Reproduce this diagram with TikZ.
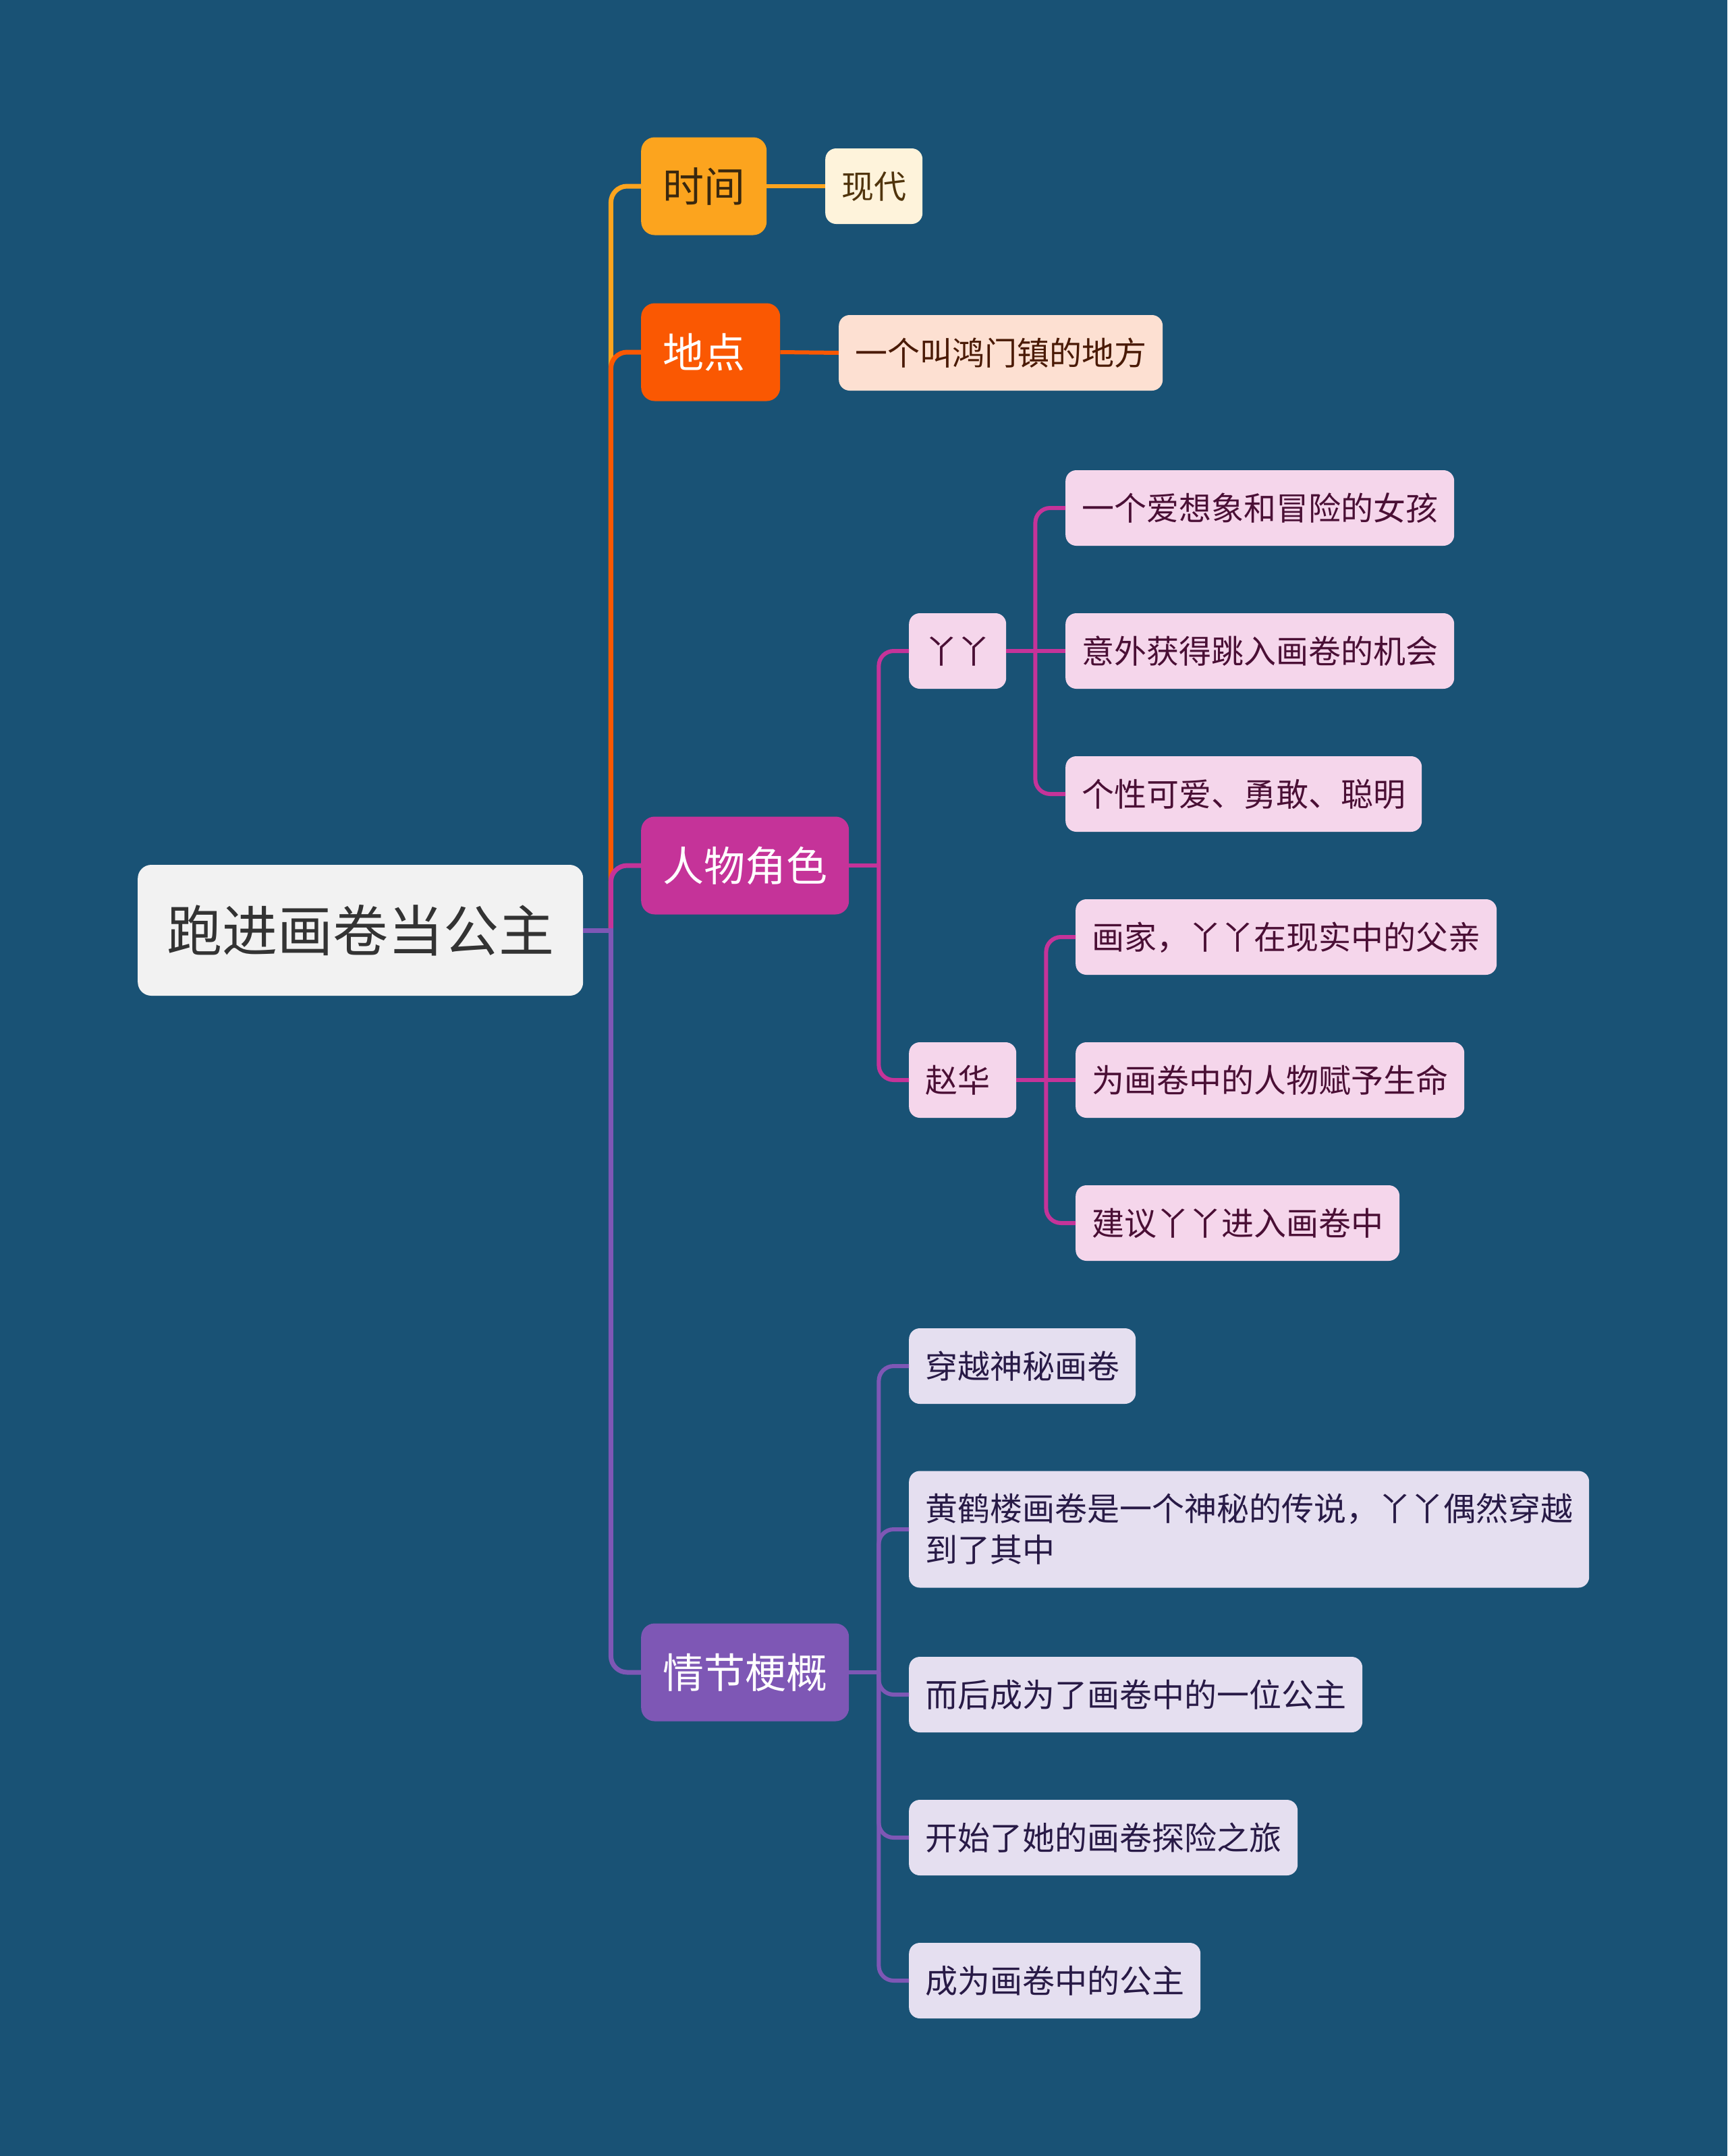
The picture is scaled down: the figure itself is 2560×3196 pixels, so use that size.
\documentclass[tikz,border=0pt]{standalone}
\usepackage{fontspec}
\setmainfont{Noto Sans CJK SC}
\definecolor{bgc}{RGB}{25,82,117}
\definecolor{rootc}{RGB}{242,242,242}
\definecolor{roottx}{RGB}{51,51,51}
\definecolor{ca}{RGB}{252,164,30}
\definecolor{cb}{RGB}{250,88,2}
\definecolor{cc}{RGB}{197,51,153}
\definecolor{cd}{RGB}{126,87,181}
\definecolor{la}{RGB}{254,243,219}
\definecolor{lb}{RGB}{253,224,210}
\definecolor{lc}{RGB}{245,214,235}
\definecolor{ld}{RGB}{229,223,240}
\definecolor{ta}{RGB}{80,52,12}
\definecolor{tb}{RGB}{74,26,5}
\definecolor{tc}{RGB}{74,15,53}
\definecolor{td}{RGB}{40,26,70}
\definecolor{tone}{RGB}{58,40,14}
\begin{document}
\begin{tikzpicture}[x=1pt,y=-1pt,
 base/.style={rounded corners=16pt, anchor=west, inner ysep=0pt},
 rootbox/.style={base, fill=rootc, text=roottx, font=\fontsize{82}{98}\selectfont, text height=66pt, text depth=4pt, minimum height=194pt, inner xsep=43pt, rounded corners=20pt},
 lvone/.style={base, font=\fontsize{61}{73}\selectfont, text height=49pt, text depth=3pt, minimum height=145pt, inner xsep=32pt, rounded corners=20pt},
 leaf/.style={base, font=\fontsize{48}{61}\selectfont, text height=38pt, text depth=2pt, minimum height=112pt, inner xsep=24pt},
 leafa/.style={leaf, fill=la, text=ta},
 leafb/.style={leaf, fill=lb, text=tb},
 leafc/.style={leaf, fill=lc, text=tc},
 leafd/.style={leaf, fill=ld, text=td},
 link/.style={line width=7pt, rounded corners=24pt},
 sublink/.style={line width=6pt, rounded corners=22pt},
]
\useasboundingbox (0,0) rectangle (2560,3196);
\fill[bgc] (0,0) rectangle (2560,3196);

% root and main branches
\node[rootbox] (root) at (204,1379) {跑进画卷当公主};
\node[lvone, fill=ca, text=tone] (t1) at (950,276) {时间};
\node[lvone, fill=cb, text=white, minimum width=206pt] (t2) at (950,522) {\hspace*{-19pt}地点};
\node[lvone, fill=cc, text=white] (t3) at (950,1283) {人物角色};
\node[lvone, fill=cd, text=white] (t4) at (950,2479) {情节梗概};

% leaves
\node[leafa] (x1) at (1223,276) {现代};
\node[leafb] (y1) at (1243,523) {一个叫鸿门镇的地方};

\node[leafc] (p1) at (1347,965) {丫丫};
\node[leafc, minimum width=159pt] (p2) at (1347,1601) {\hspace*{-14pt}赵华};
\node[leafc] (p1a) at (1579,753) {一个爱想象和冒险的女孩};
\node[leafc] (p1b) at (1579,965) {意外获得跳入画卷的机会};
\node[leafc] (p1c) at (1579,1177) {个性可爱、勇敢、聪明};
\node[leafc] (p2a) at (1594,1389) {画家，丫丫在现实中的父亲};
\node[leafc] (p2b) at (1594,1601) {为画卷中的人物赋予生命};
\node[leafc] (p2c) at (1594,1813) {建议丫丫进入画卷中};

\node[leafd] (q1) at (1347,2025) {穿越神秘画卷};
\node[leafd, align=left, text height=, text depth=, inner ysep=22pt, minimum height=173pt, minimum width=1007pt] (q2) at (1347,2267) {黄鹤楼画卷是一个神秘的传说，丫丫偶然穿越\\到了其中};
\node[leafd] (q3) at (1347,2512) {而后成为了画卷中的一位公主};
\node[leafd] (q4) at (1347,2724) {开始了她的画卷探险之旅};
\node[leafd] (q5) at (1347,2936) {成为画卷中的公主};

% main connectors
\draw[link, ca] (root.east) ++(41,0) |- (t1.west);
\draw[link, cb] (root.east) ++(41,0) |- (t2.west);
\draw[link, cc] (root.east) ++(41,0) |- (t3.west);
\draw[link, cd] (root.east) ++(41,0) |- (t4.west);
\draw[link, cd] (root.east) -- ++(44.5,0);

% level 2 connectors
\draw[sublink, ca] (t1.east) -- (x1.west);
\draw[sublink, cb] (t2.east) -- (y1.west);

\draw[sublink, cc] (t3.east) -- ++(47,0);
\draw[sublink, cc] (t3.east) ++(44,0) |- (p1.west);
\draw[sublink, cc] (t3.east) ++(44,0) |- (p2.west);

\draw[sublink, cc] (p1.east) -- (p1b.west);
\draw[sublink, cc] (p1.east) ++(43,0) |- (p1a.west);
\draw[sublink, cc] (p1.east) ++(43,0) |- (p1c.west);

\draw[sublink, cc] (p2.east) -- (p2b.west);
\draw[sublink, cc] (p2.east) ++(44,0) |- (p2a.west);
\draw[sublink, cc] (p2.east) ++(44,0) |- (p2c.west);

\draw[sublink, cd] (t4.east) -- ++(47,0);
\draw[sublink, cd] (t4.east) ++(44,0) |- (q1.west);
\draw[sublink, cd] (t4.east) ++(44,0) |- (q2.west);
\draw[sublink, cd] (t4.east) ++(44,0) |- (q3.west);
\draw[sublink, cd] (t4.east) ++(44,0) |- (q4.west);
\draw[sublink, cd] (t4.east) ++(44,0) |- (q5.west);
\end{tikzpicture}
\end{document}
